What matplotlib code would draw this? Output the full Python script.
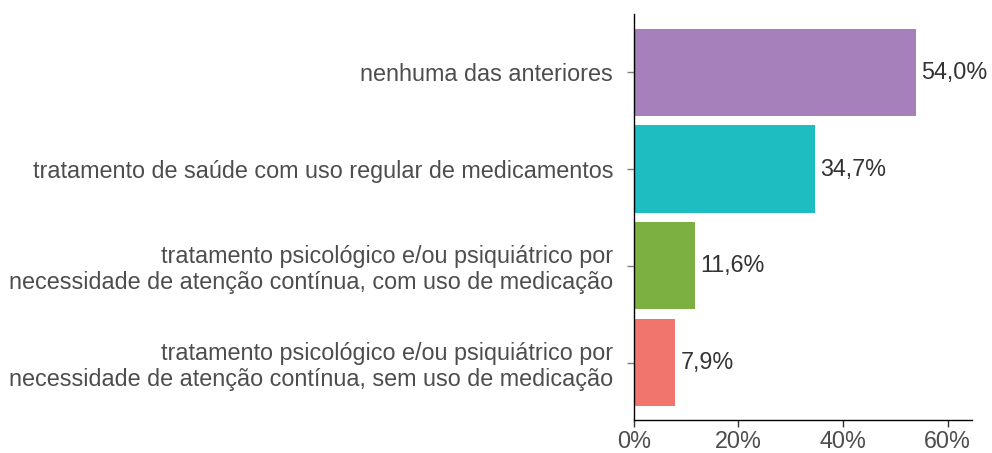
import numpy as np
import matplotlib.pyplot as plt
from matplotlib.ticker import FuncFormatter

plt.rcParams['font.family'] = ['Liberation Sans', 'DejaVu Sans']

categorias = [
    "nenhuma das anteriores",
    "tratamento de saúde com uso regular de medicamentos",
    "tratamento psicológico e/ou psiquiátrico por\nnecessidade de atenção contínua, com uso de medicação",
    "tratamento psicológico e/ou psiquiátrico por\nnecessidade de atenção contínua, sem uso de medicação",
]
valores = [54.0, 34.7, 11.6, 7.9]
cores = ["#A680BA", "#1EBDC1", "#7CB142", "#F2756D"]
xticks = [0, 20, 40, 60]

fig = plt.figure(figsize=(9.92, 4.53), dpi=100)
ax = fig.add_axes([0.639, 0.073, 0.341, 0.896])

y = np.arange(len(categorias))[::-1]
ax.barh(y, valores, height=0.9, color=cores)

# rótulos de valor
for yi, v in zip(y, valores):
    ax.text(v + 1.0, yi, f"{v:.1f}%".replace(".", ","), va="center", ha="left",
            fontsize=16.8, color="#333333")

ax.set_yticks(y)
ax.set_yticklabels(categorias, fontsize=16.8, color="#4D4D4D", linespacing=1.15)
ax.set_xticks(xticks)
ax.xaxis.set_major_formatter(FuncFormatter(lambda x, p: f"{x:.0f}%"))
ax.tick_params(axis="x", labelsize=16.8, colors="#333333", length=5, width=1, pad=2)
ax.tick_params(axis="x", labelcolor="#4D4D4D")
ax.tick_params(axis="y", colors="#7F7F7F", labelcolor="#4D4D4D", length=5, width=1, pad=10)

ax.set_xlim(0, 64.7)
ax.set_ylim(-0.59, 3.6)

for s in ["top", "right"]:
    ax.spines[s].set_visible(False)
for s in ["left", "bottom"]:
    ax.spines[s].set_color("black")
    ax.spines[s].set_linewidth(1)

fig.savefig("out.png", dpi=100, facecolor="white")
